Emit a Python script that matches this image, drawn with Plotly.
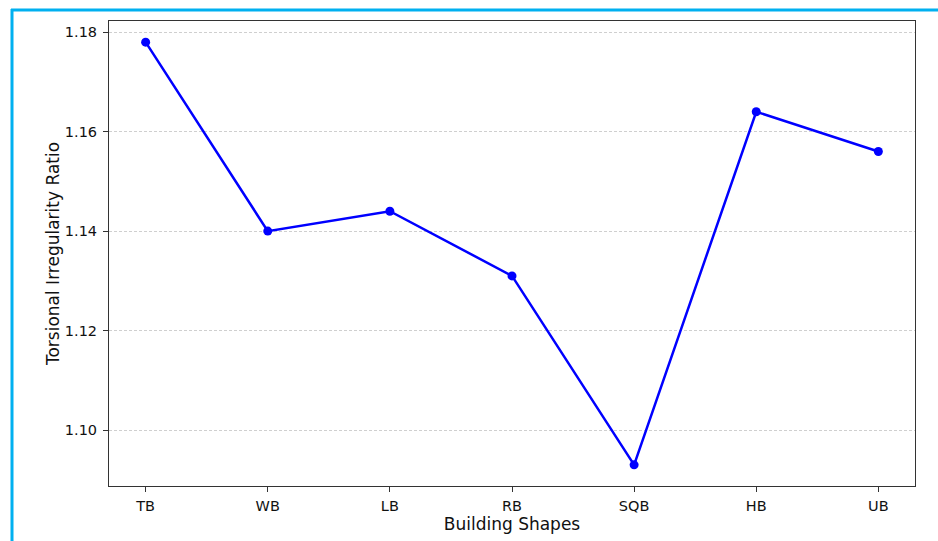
import plotly.graph_objects as go

shapes_x = ["TB", "WB", "LB", "RB", "SQB", "HB", "UB"]
ratio = [1.178, 1.140, 1.144, 1.131, 1.093, 1.164, 1.156]
y_ticks = [1.10, 1.12, 1.14, 1.16, 1.18]

W, H = 938, 541
L, R, T, B = 109, 915, 21, 486

def px(x):
    return (x - L) / (R - L)

def py(y):
    return (B - y) / (B - T)

fig = go.Figure()
fig.add_trace(go.Scatter(
    x=list(range(len(shapes_x))), y=ratio, mode="lines+markers",
    line=dict(color="#0000ff", width=2.5),
    marker=dict(color="#0000ff", size=9),
    showlegend=False,
))

font = "DejaVu Sans, sans-serif"
fig.update_layout(
    width=W, height=H,
    margin=dict(l=L, r=W - R, t=T, b=H - B),
    paper_bgcolor="white", plot_bgcolor="white",
    font=dict(family=font, color="#111", size=14.5),
    xaxis=dict(
        range=[-0.3, 6.3], automargin=False,
        tickmode="array", tickvals=list(range(len(shapes_x))), ticktext=shapes_x,
        ticks="outside", ticklen=5, tickcolor="#333", tickwidth=1,
        ticklabelstandoff=2,
        showgrid=False, zeroline=False,
        showline=True, linecolor="#333", linewidth=1, mirror=True,
        title=dict(text="Building Shapes", font=dict(size=17), standoff=4),
        tickfont=dict(size=14.5),
    ),
    yaxis=dict(
        range=[1.08875, 1.18225], automargin=False,
        tickmode="array", tickvals=y_ticks, ticktext=[f"{v:.2f}" for v in y_ticks],
        ticks="outside", ticklen=5, tickcolor="#333", tickwidth=1,
        ticklabelstandoff=3,
        showgrid=True, gridcolor="#cfcfcf", griddash="3px,2px", gridwidth=1,
        zeroline=False,
        showline=True, linecolor="#333", linewidth=1, mirror=True,
        title=dict(text="Torsional Irregularity Ratio", font=dict(size=17), standoff=0),
        tickfont=dict(size=14.5),
    ),
    shapes=[
        dict(type="line", xref="paper", yref="paper",
             x0=px(12), x1=px(12), y0=py(9), y1=py(541),
             line=dict(color="#00b0f0", width=3)),
        dict(type="line", xref="paper", yref="paper",
             x0=px(11), x1=px(940), y0=py(10), y1=py(10),
             line=dict(color="#00b0f0", width=3)),
    ],
)

fig.write_html("out.html", config={"displayModeBar": False},
               post_script="document.body.style.margin='0';document.body.style.padding='0';")
